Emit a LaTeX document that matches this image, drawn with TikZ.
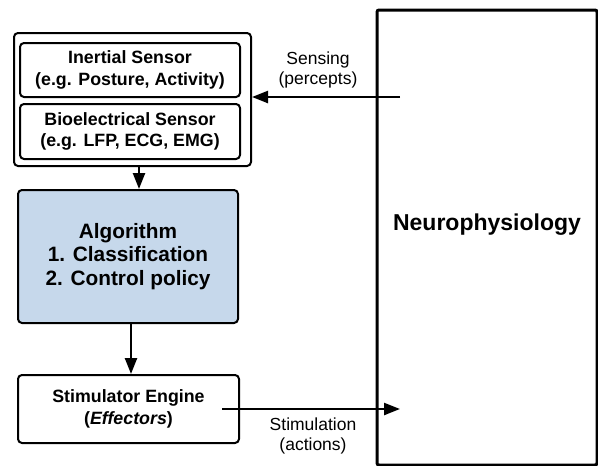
\documentclass[tikz,border=0pt]{standalone}
\usepackage{fontspec}
\setmainfont{Liberation Sans}
\usetikzlibrary{arrows.meta}
\begin{document}
\begin{tikzpicture}[x=1pt,y=-1pt,
  box/.style={draw=black, line width=2pt, rounded corners=4pt, inner sep=0pt, align=center,
    font=\fontsize{17.8}{21.5}\selectfont\bfseries},
  arr/.style={line width=2.4pt, -{Triangle[length=16pt,width=12pt]}},
  lbl/.style={align=center, font=\fontsize{17.5}{20}\selectfont}
]
\useasboundingbox (0,0) rectangle (598,466);
\node[box, minimum width=237pt, minimum height=133pt] (outer) at (132.5,99.5) {};
\node[box, minimum width=220pt, minimum height=54pt] (inertial) at (130,70) {Inertial Sensor\\(e.g. Posture, Activity)};
\node[box, minimum width=220pt, minimum height=55pt] (bio) at (130,131.5) {Bioelectrical Sensor\\(e.g. LFP, ECG, EMG)};
\node[box, fill={rgb,255:red,198;green,216;blue,235}, minimum width=220pt, minimum height=133pt,
  font=\fontsize{20.8}{23.5}\selectfont\bfseries] (algo) at (128,256.5) {Algorithm\\1. Classification\\2. Control policy};
\node[box, minimum width=221pt, minimum height=68pt] (stim) at (128.5,409) {Stimulator Engine\\(\textit{Effectors})};
\node[draw=black, line width=3pt, rounded corners=2pt, minimum width=220pt, minimum height=455pt, inner sep=0pt] (neuro) at (487,237.5) {};
\node[font=\fontsize{23}{27}\selectfont\bfseries] (neurolabel) at (487,225) {Neurophysiology};
\coordinate (c1) at (139,0);
\coordinate (c2) at (131,0);
\coordinate (sensestart) at (400,97);
\coordinate (stimstart) at (222,409);
\coordinate (stimend) at (400,409);
\draw[arr] (outer.south -| c1) -- (algo.north -| c1);
\draw[arr] (algo.south -| c2) -- (stim.north -| c2);
\draw[arr] (sensestart) -- (outer.east |- sensestart);
\draw[arr] (stimstart) -- (stimend);
\node[lbl] (senselbl) at (318,70) {Sensing\\(percepts)};
\node[lbl] (stimlbl) at (313,436) {Stimulation\\(actions)};
\end{tikzpicture}
\end{document}
